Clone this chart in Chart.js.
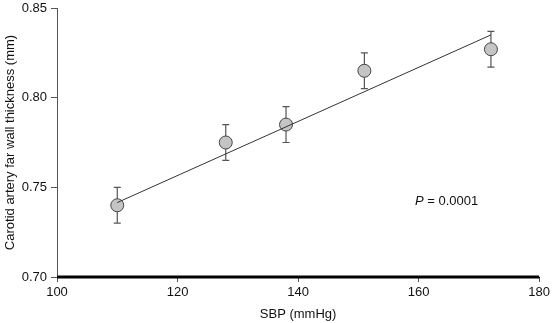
<!DOCTYPE html>
<html>
<head>
<meta charset="utf-8">
<script src="https://cdn.jsdelivr.net/npm/chart.js@4"></script>
<style>
  html, body { margin: 0; padding: 0; background: #fff; }
  #wrap { width: 553px; height: 323px; }
</style>
</head>
<body>
<div id="wrap"><canvas id="ch"></canvas></div>
<script>
// data
var sbp = [110, 128, 138, 151, 172]
var thickness = [0.740, 0.775, 0.785, 0.815, 0.827]
var errUp = [0.010, 0.010, 0.010, 0.010, 0.010]
var errDown = [0.010, 0.010, 0.010, 0.010, 0.010]
var fitX = [110, 172]
var fitY = [0.7415, 0.835]
var xTicks = [100, 120, 140, 160, 180]
var yTicks = [0.70, 0.75, 0.80, 0.85]
var pLabel = { x: 159.4, y: 0.7424, text: ' = 0.0001' }

var font = '"Liberation Sans", Arial, sans-serif'

var points = sbp.map(function (v, i) { return { x: v, y: thickness[i] } })
var fit = fitX.map(function (v, i) { return { x: v, y: fitY[i] } })

// error bars + thick bottom axis + P annotation
var extras = {
  id: 'extras',
  beforeDatasetsDraw: function (chart) {
    var c = chart.ctx, xs = chart.scales.x, ys = chart.scales.y
    c.save()
    c.strokeStyle = '#555'
    c.lineWidth = 1.2
    for (var i = 0; i < sbp.length; i++) {
      var px = xs.getPixelForValue(sbp[i])
      var top = ys.getPixelForValue(thickness[i] + errUp[i])
      var bot = ys.getPixelForValue(thickness[i] - errDown[i])
      c.beginPath()
      c.moveTo(px, top); c.lineTo(px, bot)
      c.moveTo(px - 3.5, top); c.lineTo(px + 3.5, top)
      c.moveTo(px - 3.5, bot); c.lineTo(px + 3.5, bot)
      c.stroke()
    }
    c.restore()
  },
  afterDraw: function (chart) {
    var c = chart.ctx, xs = chart.scales.x, ys = chart.scales.y
    var a = chart.chartArea
    c.save()
    c.strokeStyle = '#000'
    c.lineWidth = 3
    c.beginPath()
    c.moveTo(a.left, a.bottom); c.lineTo(a.right, a.bottom)
    c.stroke()
    var px = xs.getPixelForValue(pLabel.x), py = ys.getPixelForValue(pLabel.y)
    c.fillStyle = '#111'
    c.textBaseline = 'middle'
    c.font = 'italic 13px ' + font
    c.fillText('P', px, py)
    var w = c.measureText('P').width
    c.font = '13px ' + font
    c.fillText(pLabel.text, px + w, py)
    c.restore()
  }
}

var ctx = document.getElementById('ch').getContext('2d')
var chart = new Chart(ctx, {
  type: 'scatter',
  data: {
    datasets: [{
      data: fit,
      type: 'line',
      borderColor: '#333',
      borderWidth: 1,
      pointRadius: 0,
      fill: false
    }, {
      data: points,
      pointRadius: 6.5,
      pointBackgroundColor: '#c4c4c4',
      pointBorderColor: '#444',
      pointBorderWidth: 1
    }]
  },
  options: {
    responsive: true,
    maintainAspectRatio: false,
    animation: false,
    events: [],
    layout: { padding: { top: 8, right: 13, left: 3, bottom: 0 } },
    plugins: { legend: { display: false }, tooltip: { enabled: false } },
    scales: {
      x: {
        min: 100, max: 180,
        afterBuildTicks: function (ax) { ax.ticks = xTicks.map(function (v) { return { value: v } }) },
        afterFit: function (ax) { ax.height = 46 },
        grid: { drawOnChartArea: false, drawTicks: true, tickLength: 5, color: '#555' },
        border: { display: true, color: '#000', width: 1 },
        ticks: { color: '#111', font: { family: font, size: 13 }, padding: 3, maxRotation: 0 },
        title: { display: true, text: 'SBP (mmHg)', color: '#111', font: { family: font, size: 13 }, padding: { top: 0, bottom: 1 } }
      },
      y: {
        min: 0.70, max: 0.85,
        afterBuildTicks: function (ax) { ax.ticks = yTicks.map(function (v) { return { value: v } }) },
        afterFit: function (ax) { ax.width = 54; ax.paddingTop = 0; ax.paddingBottom = 0 },
        grid: { drawOnChartArea: false, drawTicks: true, tickLength: 6, color: '#555' },
        border: { display: true, color: '#555', width: 1 },
        ticks: { color: '#111', font: { family: font, size: 13 }, padding: 4, callback: function (v) { return v.toFixed(2) } },
        title: { display: true, text: 'Carotid artery far wall thickness (mm)', color: '#111', font: { family: font, size: 13 }, padding: { top: 0, bottom: 2 } }
      }
    }
  },
  plugins: [extras]
})
</script>
</body>
</html>
